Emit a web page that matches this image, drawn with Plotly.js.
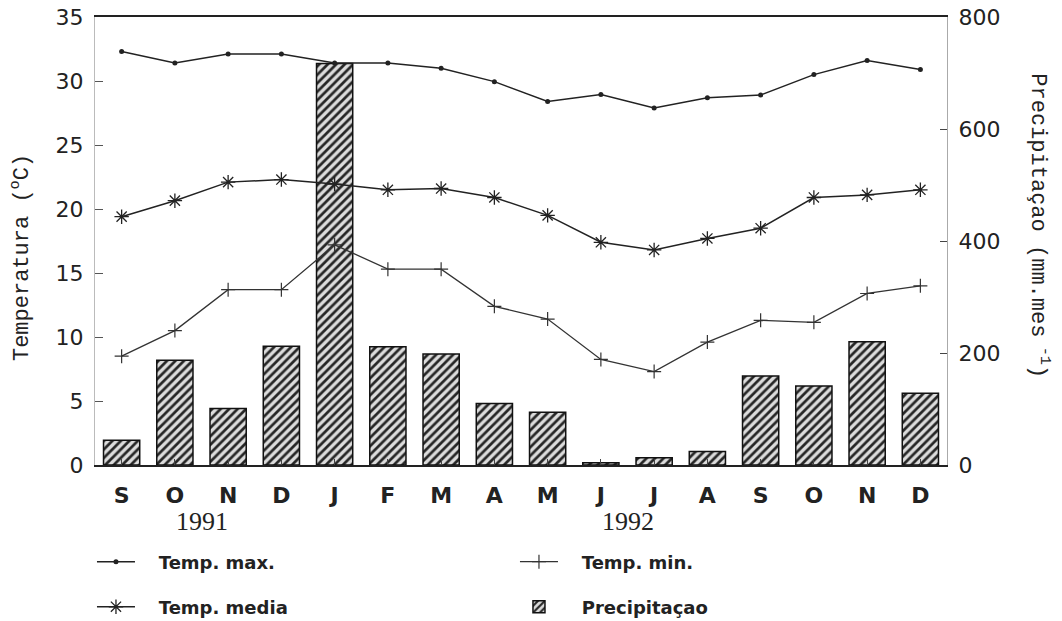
<!DOCTYPE html>
<html>
<head>
<meta charset="utf-8">
<script src="https://cdn.plot.ly/plotly-3.0.1.min.js"></script>
<style>html,body{margin:0;padding:0;background:#fff;}#chart{width:1062px;height:621px;}</style>
</head>
<body>
<div id="chart"></div>
<script>
const months = ['S','O','N','D','J','F','M','A','M','J','J','A','S','O','N','D'];
const monthPos = [0,1,2,3,4,5,6,7,8,9,10,11,12,13,14,15];
const tempMax = [32.3,31.4,32.1,32.1,31.4,31.4,31.0,29.95,28.4,28.95,27.9,28.7,28.9,30.5,31.6,30.9];
const tempMedia = [19.4,20.65,22.1,22.3,21.95,21.5,21.6,20.9,19.5,17.4,16.8,17.7,18.5,20.9,21.1,21.5];
const tempMin = [8.5,10.5,13.7,13.7,17.2,15.3,15.3,12.4,11.4,8.25,7.3,9.6,11.3,11.15,13.4,14.0];
const precip = [44,187,101,212,717,211,198,110,94,4,13,24,159,141,220,128];
const years = ['1991','1992'];
const yearPos = [1.5,9.5];
const nb = '\u00A0\u00A0\u00A0';

const lineCol = '#222';
const traces = [
  {x: monthPos, y: tempMax, yaxis:'y2', type:'scatter', mode:'lines+markers', name: nb+'Temp. max.',
   line:{color:lineCol, width:1.5}, marker:{symbol:'circle', size:5, color:lineCol}, legend:'legend'},
  {x: monthPos, y: tempMin, yaxis:'y2', type:'scatter', mode:'lines+markers', name: nb+'Temp. min.',
   line:{color:'#333', width:1.3}, marker:{symbol:'cross-thin-open', size:10, line:{color:'#333', width:1.2}}, legend:'legend'},
  {x: monthPos, y: tempMedia, yaxis:'y2', type:'scatter', mode:'lines+markers', name: nb+'Temp. media',
   line:{color:lineCol, width:1.5}, marker:{symbol:'asterisk-open', size:12, line:{color:lineCol, width:1.3}}, legend:'legend2'},
  {x: monthPos, y: precip, yaxis:'y', type:'bar', name: nb+'Precipitaçao', width:0.68,
   marker:{color:'#ddd', line:{color:'#111', width:1.5}, pattern:{shape:'/', fgcolor:'#262626', bgcolor:'#dcdcdc', size:6, solidity:0.45}},
   legend:'legend2'}
];

const titleFont = {family:'"Liberation Mono", "Courier New", monospace', size:22, color:'#222'};
const annotations = yearPos.map((p,i)=>({x:p, xref:'x', y:-0.127, yref:'paper', text:years[i], showarrow:false,
  font:{family:'"Liberation Serif", "Times New Roman", serif', size:26, color:'#222'}, xanchor:'center', yanchor:'middle'}));
annotations.push({x:-0.088, xref:'paper', y:0.462, yref:'paper', text:'Temperatura (<sup>o</sup>C)', textangle:-90,
  showarrow:false, font:titleFont, xanchor:'center', yanchor:'middle'});
annotations.push({x:1.109, xref:'paper', y:0.533, yref:'paper', text:'Precipitaçao (mm.mes<sup> -1</sup>)', textangle:90,
  showarrow:false, font:titleFont, xanchor:'center', yanchor:'middle'});

const legendBase = {orientation:'h', xref:'container', yref:'container', xanchor:'left', yanchor:'middle', x:0.0866,
  entrywidth:370, entrywidthmode:'pixels',
  itemwidth:38, bgcolor:'rgba(0,0,0,0)', font:{family:'DejaVu Sans', size:18, weight:'bold', color:'#222'}, traceorder:'normal'};

const layout = {
  width:1062, height:621,
  margin:{l:95, r:115, t:17, b:156, autoexpand:false},
  paper_bgcolor:'#fff', plot_bgcolor:'#fff',
  showlegend:true,
  xaxis:{range:[-0.5,15.5], tickvals:monthPos, ticktext:months, ticks:'inside', ticklen:6, tickcolor:'#444',
    showline:true, linecolor:'#222', linewidth:2, mirror:true, showgrid:false, zeroline:false,
    tickfont:{family:'DejaVu Sans', size:22, weight:'bold', color:'#222'}, ticklabelstandoff:10},
  yaxis:{range:[0,800], side:'right', tickvals:[0,200,400,600,800], ticks:'inside', ticklen:7, tickcolor:'#444',
    showline:true, linecolor:'#aaa', linewidth:1, showgrid:false, zeroline:false,
    tickfont:{family:'DejaVu Sans', size:22, color:'#222'}, ticklabelstandoff:6},
  yaxis2:{range:[0,35], overlaying:'y', side:'left', dtick:5, tick0:0, ticks:'inside', ticklen:8, tickcolor:'#555',
    showline:true, linecolor:'#bbb', linewidth:1, showgrid:false, zeroline:false,
    tickfont:{family:'DejaVu Sans', size:22, color:'#222'}, ticklabelstandoff:6},
  legend:Object.assign({}, legendBase, {y:0.095}),
  legend2:Object.assign({}, legendBase, {y:0.0225}),
  annotations:annotations
};

Plotly.newPlot('chart', traces, layout, {displayModeBar:false, staticPlot:true});
</script>
</body>
</html>
